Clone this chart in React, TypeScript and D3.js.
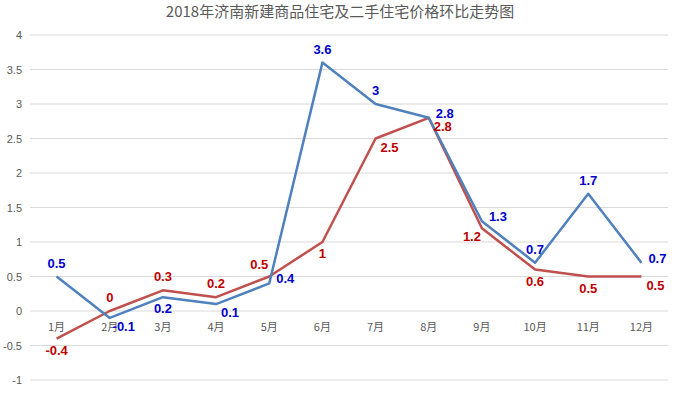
import { useEffect, useRef } from 'react';
import * as d3 from 'd3';

const months = ['1月', '2月', '3月', '4月', '5月', '6月', '7月', '8月', '9月', '10月', '11月', '12月'];
const newHomes = [0.5, -0.1, 0.2, 0.1, 0.4, 3.6, 3, 2.8, 1.3, 0.7, 1.7, 0.7];
const resale = [-0.4, 0, 0.3, 0.2, 0.5, 1, 2.5, 2.8, 1.2, 0.6, 0.5, 0.5];
const yTicks = [-1, -0.5, 0, 0.5, 1, 1.5, 2, 2.5, 3, 3.5, 4];
const seriesNames = ['新建', '二手'];

// where each data label sits relative to its point
const newPlace = ['above', 'rightBelow', 'below', 'rightBelow', 'right', 'above', 'above', 'right', 'right', 'above', 'above', 'right'];
const resalePlace = ['below', 'above', 'above', 'above', 'aboveLeft', 'below', 'rightBelow', 'rightBelow', 'leftBelow', 'below', 'below', 'rightBelow'];

const W = 677;
const H = 398;

const OFFSETS: Record<string, [number, number]> = {
  above: [0, -9],
  below: [0, 16],
  right: [16, 0],
  rightBelow: [14, 13],
  leftBelow: [-10, 13],
  aboveLeft: [-10, -8],
};

export default function App() {
  const svgRef = useRef<SVGSVGElement>(null);

  useEffect(() => {
    document.body.style.margin = '0';
    if (!svgRef.current) return;
    const svg = d3.select(svgRef.current);
    svg.selectAll('*').remove();

    const left = 30;
    const right = 668;
    const x = d3.scaleBand<string>().domain(months).range([left, right]);
    const y = d3.scaleLinear().domain([-1, 4]).range([380, 35]);
    const cx = (m: string) => (x(m) as number) + x.bandwidth() / 2;

    svg.append('rect').attr('width', W).attr('height', H).attr('fill', '#fff');

    svg.append('text')
      .attr('x', 340)
      .attr('y', 17)
      .attr('text-anchor', 'middle')
      .attr('font-family', '"Noto Sans CJK SC", sans-serif')
      .attr('font-size', '15px')
      .attr('fill', '#595959')
      .text('2018年济南新建商品住宅及二手住宅价格环比走势图');

    // gridlines + y labels
    svg.append('g')
      .selectAll('line')
      .data(yTicks)
      .join('line')
      .attr('x1', left)
      .attr('x2', right)
      .attr('y1', d => y(d))
      .attr('y2', d => y(d))
      .attr('stroke', '#D9D9D9')
      .attr('stroke-width', 1);

    svg.append('g')
      .selectAll('text')
      .data(yTicks)
      .join('text')
      .attr('x', 22)
      .attr('y', d => y(d) + 4)
      .attr('text-anchor', 'end')
      .attr('font-family', '"Liberation Sans", Arial, sans-serif')
      .attr('font-size', '11px')
      .attr('fill', '#595959')
      .text(d => String(d));

    // month labels below zero line
    svg.append('g')
      .selectAll('text')
      .data(months)
      .join('text')
      .attr('x', d => cx(d))
      .attr('y', y(0) + 20)
      .attr('text-anchor', 'middle')
      .attr('font-family', '"Noto Sans CJK SC", sans-serif')
      .attr('font-size', '11px')
      .attr('fill', '#595959')
      .text(d => d);

    const line = d3.line<number>()
      .x((_, i) => cx(months[i]))
      .y(d => y(d));

    const series = [
      { values: resale, place: resalePlace, stroke: '#C0504D', label: '#C00000' },
      { values: newHomes, place: newPlace, stroke: '#4F81BD', label: '#0000CC' },
    ];

    series.forEach(s => {
      svg.append('path')
        .datum(s.values)
        .attr('d', line)
        .attr('fill', 'none')
        .attr('stroke', s.stroke)
        .attr('stroke-width', 2.5)
        .attr('stroke-linejoin', 'round');
    });

    series.forEach(s => {
      svg.append('g')
        .selectAll('text')
        .data(s.values)
        .join('text')
        .attr('x', (d, i) => cx(months[i]) + OFFSETS[s.place[i]][0])
        .attr('y', (d, i) => y(d) + OFFSETS[s.place[i]][1])
        .attr('text-anchor', 'middle')
        .attr('font-family', '"Liberation Sans", Arial, sans-serif')
        .attr('font-weight', 'bold')
        .attr('font-size', '13px')
        .attr('fill', s.label)
        .text(d => String(d));
    });

    // legend, mostly cut off by the frame
    const legendX = [288, 345];
    const legendColors = ['#4F81BD', '#C0504D'];
    seriesNames.forEach((name, i) => {
      svg.append('line')
        .attr('x1', legendX[i])
        .attr('x2', legendX[i] + 18)
        .attr('y1', 404)
        .attr('y2', 404)
        .attr('stroke', legendColors[i])
        .attr('stroke-width', 2.5);
      svg.append('text')
        .attr('x', legendX[i] + 22)
        .attr('y', 408)
        .attr('font-family', '"Noto Sans CJK SC", sans-serif')
        .attr('font-size', '11px')
        .attr('fill', '#595959')
        .text(name);
    });
  }, []);

  return <svg ref={svgRef} width={W} height={H} style={{ display: 'block' }} />;
}
